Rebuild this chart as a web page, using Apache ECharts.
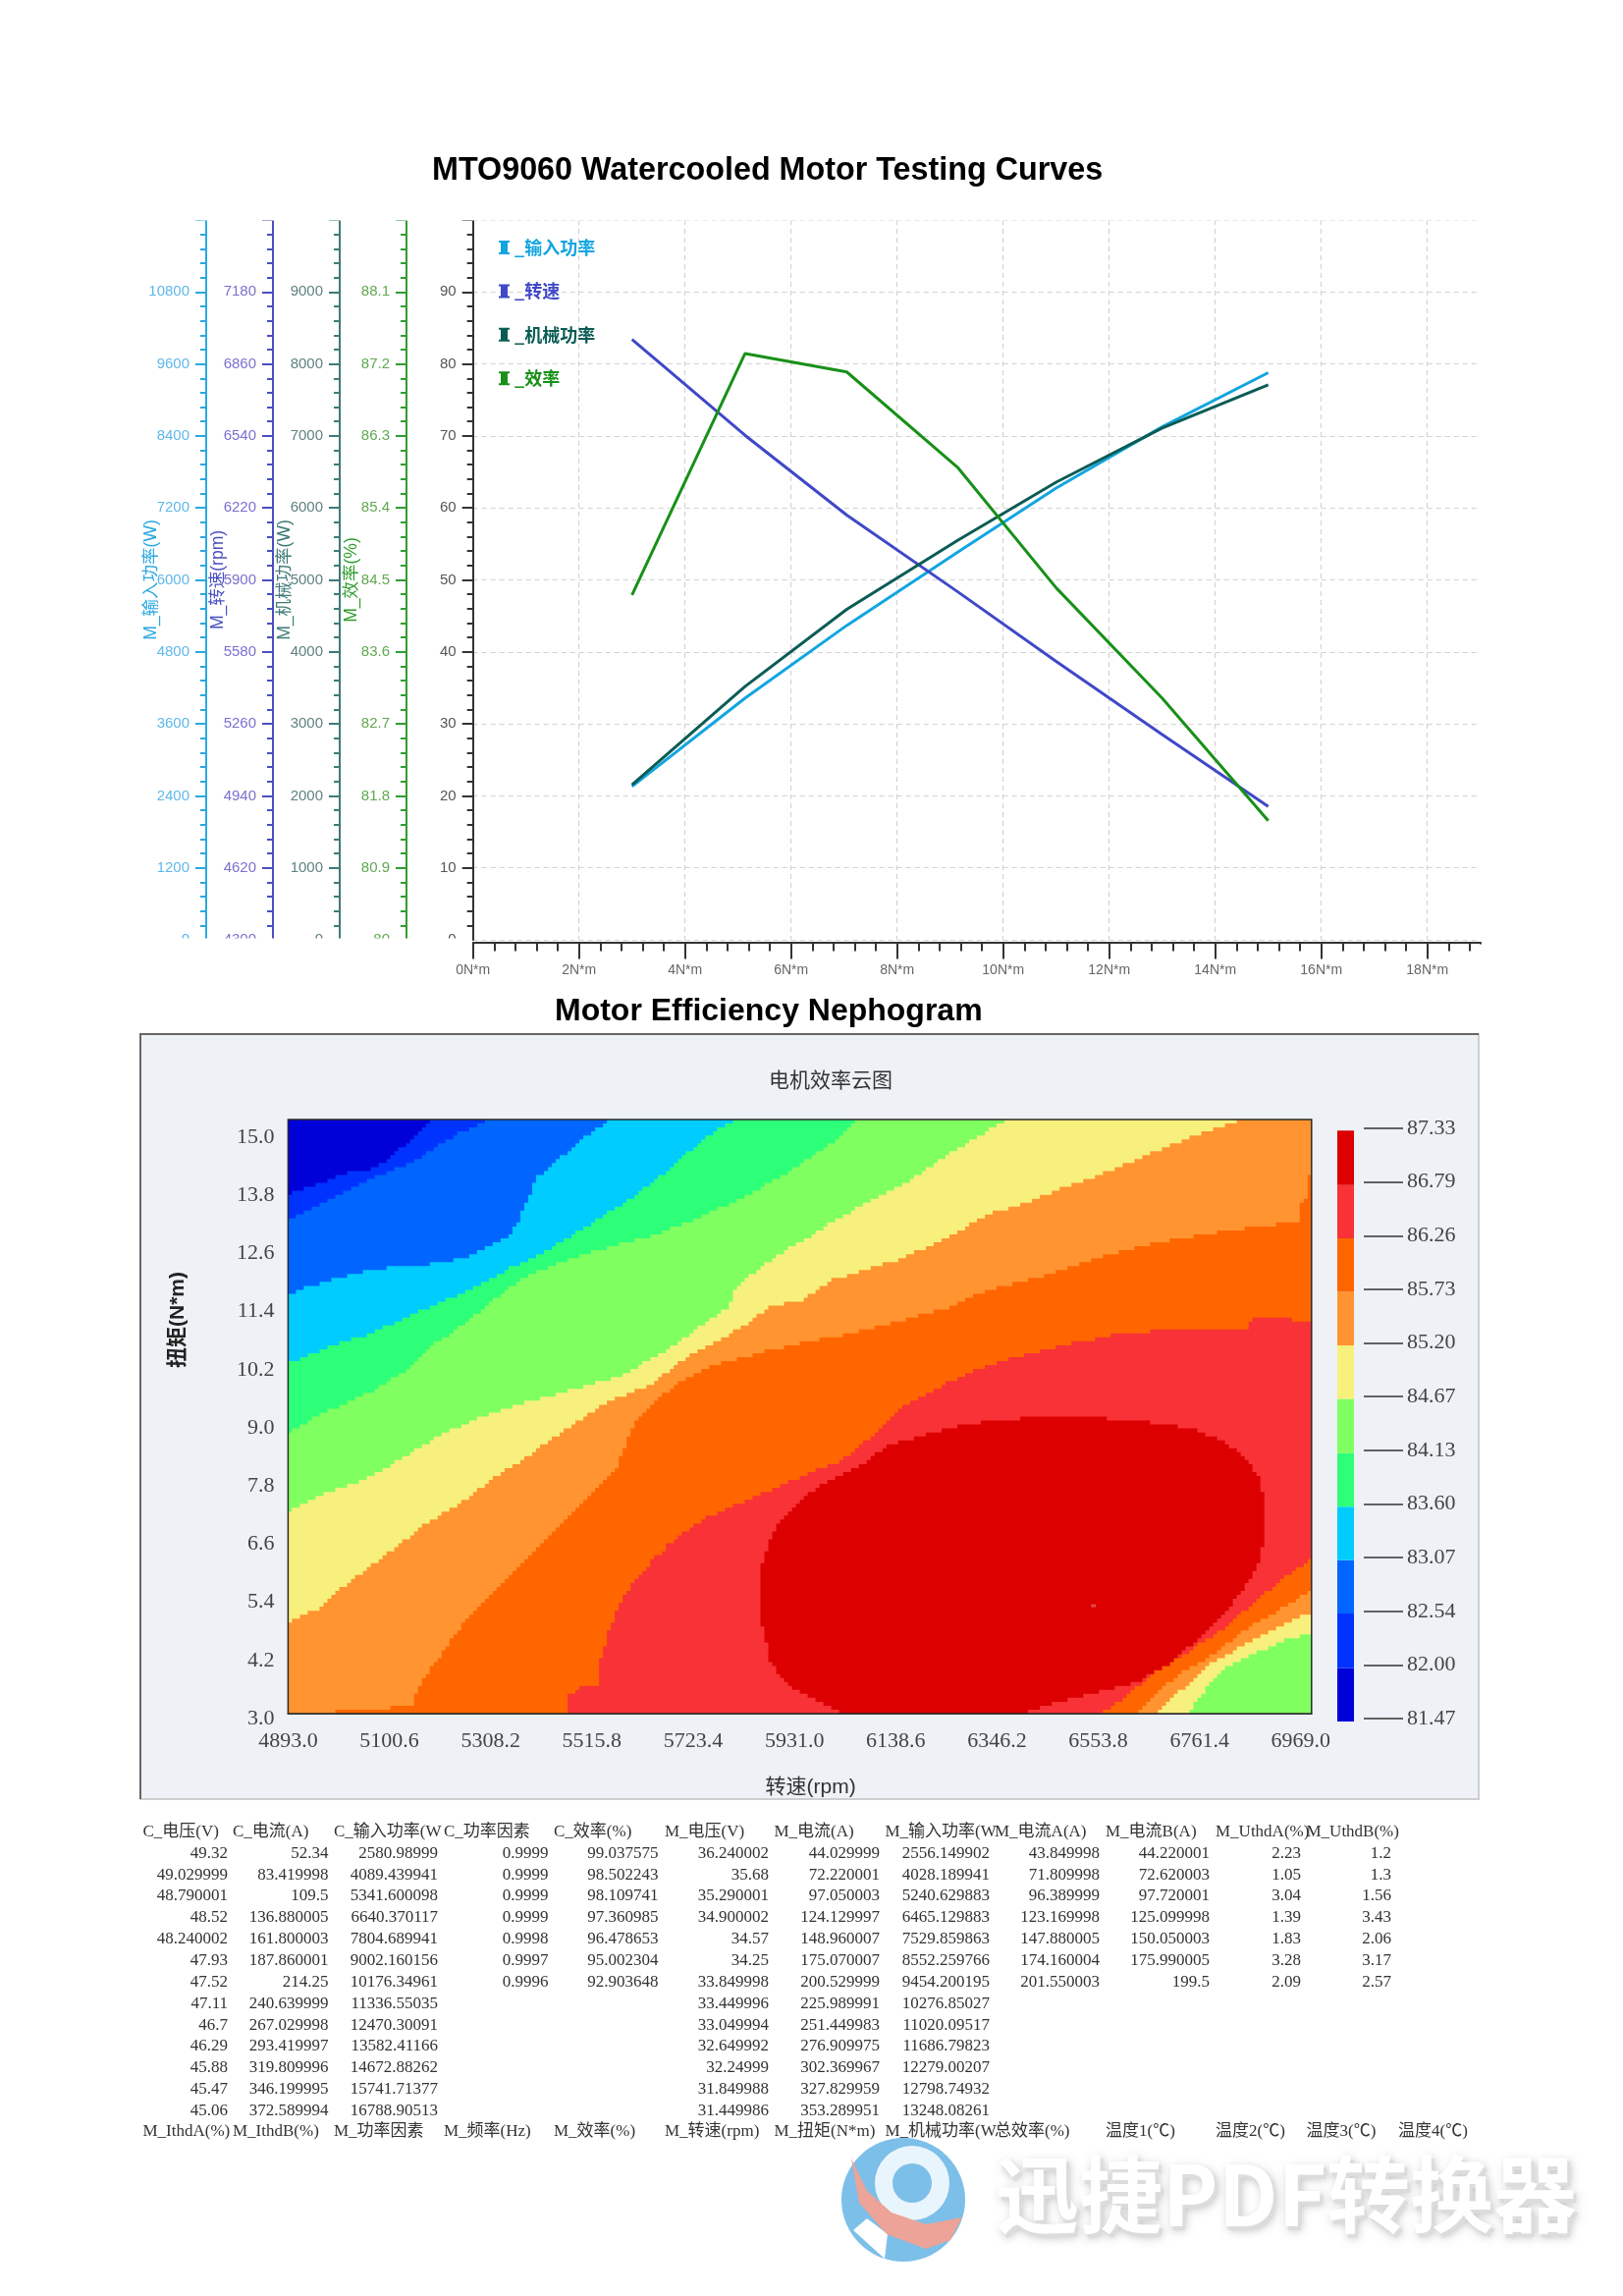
<!DOCTYPE html>
<html><head><meta charset="utf-8">
<script src="https://cdn.jsdelivr.net/npm/echarts@6/dist/echarts.min.js"></script>
<style>html,body{margin:0;padding:0;background:#fff}#c{width:1653px;height:2338px}</style>
</head><body><div id="c"></div>
<script>
// ---------- line chart data ----------
const torque = [3, 5.13, 7.05, 9.15, 11, 13, 15];
const inputPower = [2556.15, 4028.19, 5240.63, 6465.13, 7529.86, 8552.26, 9454.2];
const speedRpm = [6969, 6543, 6188, 5846, 5538, 5212, 4893];
const mechPower = [2154, 3518, 4590, 5553, 6357, 7110, 7710];
const efficiency = [84.31, 87.33, 87.1, 85.9, 84.4, 83.02, 81.49];

// ---------- efficiency map: contour boundaries, [rpm, torque] ----------
const c8200 = [[4893,13.48],[4954,13.71],[5023,13.94],[5071,14.01],[5110,14.31],[5150,14.64],[5189,15]];
const c8254 = [[4893,12.95],[4954,13.25],[5023,13.61],[5081,13.88],[5150,14.14],[5208,14.54],[5247,14.74],[5306,15]];
const c8307 = [[4893,11.46],[4935,11.63],[4984,11.76],[5062,11.96],[5120,12.04],[5208,12.10],[5267,12.26],[5345,12.65],[5369,13.02],[5384,13.41],[5403,13.84],[5442,14.14],[5491,14.60],[5554,15]];
const c8360 = [[4893,10.07],[4974,10.41],[5052,10.64],[5140,11.03],[5228,11.40],[5286,11.66],[5345,11.99],[5413,12.29],[5501,12.82],[5588,13.35],[5676,14.01],[5735,14.54],[5808,15]];
const c8413 = [[4893,8.69],[4974,9.12],[5072,9.55],[5150,10.04],[5189,10.44],[5267,10.97],[5306,11.30],[5374,11.79],[5462,12.16],[5549,12.42],[5628,12.62],[5725,12.98],[5823,13.41],[5930,14.01],[6008,14.54],[6062,15]];
const c8467 = [[4893,7.08],[4954,7.40],[5032,7.66],[5110,8.06],[5198,8.59],[5286,8.98],[5345,9.18],[5442,9.45],[5579,9.84],[5637,10.17],[5696,10.50],[5735,10.83],[5793,11.17],[5813,11.63],[5881,12.16],[5969,12.69],[6057,13.21],[6073,13.28],[6158,13.71],[6243,14.27],[6319,14.73],[6370,15]];
const c8467low = [[6991,4.62],[6937,4.49],[6878,4.22],[6819,3.96],[6785,3.63],[6760,3.30],[6738,3]];
const c8520 = [[4893,4.85],[4925,5.02],[4954,5.08],[4993,5.48],[5062,5.98],[5130,6.50],[5179,6.87],[5247,7.26],[5325,7.83],[5384,8.19],[5462,8.75],[5549,9.31],[5637,9.64],[5696,10.11],[5754,10.44],[5823,10.80],[5881,11.23],[5949,11.36],[6008,11.76],[6067,11.93],[6158,12.22],[6243,12.62],[6328,13.08],[6412,13.35],[6497,13.68],[6582,13.98],[6666,14.34],[6751,14.67],[6853,15]];
const c8520low = [[6991,5.05],[6946,4.85],[6887,4.55],[6836,4.29],[6785,4.00],[6743,3.63],[6709,3.36],[6677,3]];
const c8573 = [[4989,3],[4989,3.07],[5106,3.07],[5106,3.13],[5145,3.13],[5159,3.50],[5189,3.96],[5208,4.22],[5247,4.75],[5286,5.21],[5335,5.68],[5384,6.14],[5442,6.74],[5481,7.13],[5520,7.53],[5559,7.86],[5579,8.26],[5598,8.78],[5637,9.25],[5696,9.71],[5774,10.07],[5881,10.34],[5949,10.50],[6047,10.67],[6158,10.97],[6243,11.20],[6328,11.56],[6412,11.76],[6497,12.02],[6582,12.29],[6666,12.49],[6751,12.65],[6836,12.78],[6921,12.88],[6967,12.96],[6967,13.28],[6980,13.38],[6980,13.84],[6991,13.84]];
const c8573low = [[6991,5.48],[6937,5.15],[6887,4.88],[6836,4.55],[6785,4.16],[6734,3.89],[6683,3.50],[6637,3]];
const c8626 = [[5469,3],[5469,3.36],[5491,3.53],[5530,3.59],[5535,4.16],[5549,4.62],[5569,5.15],[5598,5.61],[5637,6.07],[5686,6.54],[5745,6.93],[5813,7.23],[5930,7.73],[6028,8.12],[6094,8.65],[6158,9.25],[6243,9.68],[6328,10.04],[6412,10.27],[6497,10.47],[6582,10.64],[6666,10.73],[6853,10.73],[6874,11.0],[6921,10.98],[6991,10.93]];
const c8626low = [[6991,6.13],[6954,5.88],[6912,5.55],[6870,5.22],[6819,4.75],[6776,4.49],[6726,4.16],[6666,3.83],[6616,3.36],[6561,3]];
const c8679 = [[6037,3],[5969,3.30],[5910,3.63],[5881,4.09],[5870,4.62],[5860,4.95],[5860,5.88],[5876,6.41],[5901,6.87],[5949,7.40],[6018,7.79],[6073,8.06],[6116,8.39],[6201,8.65],[6285,8.85],[6370,8.95],[6455,8.99],[6548,8.98],[6624,8.92],[6734,8.78],[6810,8.52],[6861,8.12],[6887,7.66],[6891,7.46],[6893,6.54],[6887,6.07],[6865,5.74],[6844,5.41],[6819,5.08],[6785,4.75],[6743,4.36],[6692,3.96],[6633,3.63],[6556,3.43],[6497,3.30],[6429,3.10],[6400,3]];
const hotSpot = [[6544, 5.18]];
const mapCorners = {tl:[4893,15], tr:[6991,15], br:[6991,3], bl:[4893,3]};
const rpmTicks = [4893,5100.6,5308.2,5515.8,5723.4,5931,6138.6,6346.2,6553.8,6761.4,6969];
const torqueTicks = [3,4.2,5.4,6.6,7.8,9,10.2,11.4,12.6,13.8,15];
const levels = [81.47,82.00,82.54,83.07,83.60,84.13,84.67,85.20,85.73,86.26,86.79,87.33];
const levelColors = ['#0000d8','#0033ff','#0066ff','#00ccff','#2dff78','#80ff60','#f8f07c','#ff9430','#ff6600','#f83236','#dc0000'];

// ---------- table under the chart ----------
const headerRow = ['C_电压(V)','C_电流(A)','C_输入功率(W','C_功率因素','C_效率(%)','M_电压(V)','M_电流(A)','M_输入功率(W','M_电流A(A)','M_电流B(A)','M_UthdA(%)','M_UthdB(%)'];
const footerRow = ['M_IthdA(%)','M_IthdB(%)','M_功率因素','M_频率(Hz)','M_效率(%)','M_转速(rpm)','M_扭矩(N*m)','M_机械功率(W','总效率(%)','温度1(℃)','温度2(℃)','温度3(℃)','温度4(℃)'];
const colCVolt = ['49.32','49.029999','48.790001','48.52','48.240002','47.93','47.52','47.11','46.7','46.29','45.88','45.47','45.06'];
const colCCurr = ['52.34','83.419998','109.5','136.880005','161.800003','187.860001','214.25','240.639999','267.029998','293.419997','319.809996','346.199995','372.589994'];
const colCPow = ['2580.98999','4089.439941','5341.600098','6640.370117','7804.689941','9002.160156','10176.34961','11336.55035','12470.30091','13582.41166','14672.88262','15741.71377','16788.90513'];
const colCPf = ['0.9999','0.9999','0.9999','0.9999','0.9998','0.9997','0.9996'];
const colCEff = ['99.037575','98.502243','98.109741','97.360985','96.478653','95.002304','92.903648'];
const colMVolt = ['36.240002','35.68','35.290001','34.900002','34.57','34.25','33.849998','33.449996','33.049994','32.649992','32.24999','31.849988','31.449986'];
const colMCurr = ['44.029999','72.220001','97.050003','124.129997','148.960007','175.070007','200.529999','225.989991','251.449983','276.909975','302.369967','327.829959','353.289951'];
const colMPow = ['2556.149902','4028.189941','5240.629883','6465.129883','7529.859863','8552.259766','9454.200195','10276.85027','11020.09517','11686.79823','12279.00207','12798.74932','13248.08261'];
const colMCurrA = ['43.849998','71.809998','96.389999','123.169998','147.880005','174.160004','201.550003'];
const colMCurrB = ['44.220001','72.620003','97.720001','125.099998','150.050003','175.990005','199.5'];
const colUthdA = ['2.23','1.05','3.04','1.39','1.83','3.28','2.09'];
const colUthdB = ['1.2','1.3','1.56','3.43','2.06','3.17','2.57'];

const tableCols = [colCVolt,colCCurr,colCPow,colCPf,colCEff,colMVolt,colMCurr,colMPow,colMCurrA,colMCurrB,colUthdA,colUthdB];
const colRight = [232,334.5,446,558.5,670.5,783,896,1008,1120,1232,1325,1417];
const colLeft = [145.5,237,340,452,564,677,788.5,901.5,1013,1126,1238,1330.5,1424];

const SANS = '"Liberation Sans","Noto Sans CJK SC",sans-serif';
const SERIF = '"Liberation Serif","Noto Sans CJK SC",serif';

function stair(pts, cs){
  const cx = cs.width/260, cy = cs.height/150, out = [];
  const snap = p => [cs.x+Math.round((p[0]-cs.x)/cx)*cx, cs.y+cs.height-Math.round((cs.y+cs.height-p[1])/cy)*cy];
  let last = null;
  const add = p => {
    const s = snap(p);
    if(last && (s[0]!==last[0] || s[1]!==last[1])){
      if(s[0]!==last[0] && s[1]!==last[1]) out.push([s[0],last[1]]);
      out.push(s); last = s;
    } else if(!last){ out.push(s); last = s; }
  };
  for(let i=0;i<pts.length;i++){
    const a = pts[i], b = pts[(i+1)%pts.length];
    const n = Math.max(1, Math.ceil(Math.hypot(b[0]-a[0], b[1]-a[1])));
    for(let k=0;k<n;k++) add([a[0]+(b[0]-a[0])*k/n, a[1]+(b[1]-a[1])*k/n]);
  }
  return out;
}
const K = mapCorners;
const regions = [
  [K.tl,K.tr,K.br,K.bl],
  [...c8200,K.tr,K.br,K.bl],
  [...c8254,K.tr,K.br,K.bl],
  [...c8307,K.tr,K.br,K.bl],
  [...c8360,K.tr,K.br,K.bl],
  [...c8413,K.tr,K.br,K.bl],
  [...c8467,K.tr,...c8467low,K.bl],
  [...c8520,K.tr,...c8520low,K.bl],
  [...c8573,...c8573low],
  [...c8626,...c8626low],
  c8679
];
const regionSeries = regions.map((poly,i)=>({
  type:'custom', xAxisIndex:1, yAxisIndex:5, silent:true, animation:false, clip:true, z:2+i*0.01,
  data:[poly[0]],
  renderItem:(params,api)=>({type:'polygon',
    shape:{points:stair(poly.map(p=>api.coord(p)), params.coordSys)},
    style:{fill:levelColors[i]}})
}));
const barEdges = [...levels, 87.41];
const colorBarSeries = {
  type:'custom', xAxisIndex:3, yAxisIndex:7, silent:true, animation:false,
  data: levelColors.map((c,i)=>[i, barEdges[i], barEdges[i+1]]),
  encode:{y:[1,2]},
  renderItem:(params,api)=>{
    const lo = api.coord([0,api.value(1)]), hi = api.coord([1,api.value(2)]);
    return {type:'rect', shape:{x:lo[0],y:hi[1],width:hi[0]-lo[0],height:lo[1]-hi[1]}, style:{fill:levelColors[api.value(0)]}};
  }
};

function leftAxis(offset,min,max,interval,lineColor,labelColor,name,gap,fmt){
  return {gridIndex:0,type:'value',position:'left',offset,min,max,interval,
    name,nameLocation:'middle',nameGap:gap,nameMoveOverlap:false,
    nameTextStyle:{color:lineColor,fontFamily:SANS,fontSize:17.5},
    axisLine:{show:true,onZero:false,lineStyle:{color:lineColor,width:2}},
    axisTick:{show:true,length:11,lineStyle:{color:lineColor,width:2}},
    minorTick:{show:true,splitNumber:5,length:6,lineStyle:{color:lineColor,width:2}},
    splitLine:{show:false},
    axisLabel:{color:labelColor,fontFamily:SANS,fontSize:15,margin:17,showMaxLabel:false,hideOverlap:false,formatter:fmt||(v=>String(v))}};
}
const hiddenX = (g,min,max)=>({gridIndex:g,type:'value',show:false,min,max});
const gridDash = {show:true,lineStyle:{type:[5,4],color:'#d2d2d2',width:1.2}};

const graphics = [
  {type:'rect',z:-10,shape:{x:143,y:1053,width:1363,height:779},style:{fill:'#eef1f6',stroke:'#cfcfcf',lineWidth:2}},
  {type:'polyline',z:-9,shape:{points:[[143,1832],[143,1053],[1506,1053]]},style:{fill:'none',stroke:'#666',lineWidth:2}},
  {type:'rect',z:60,shape:{x:293.4,y:1140,width:1042.4,height:605},style:{fill:'none',stroke:'#2a2a2a',lineWidth:1.5}},
  {type:'text',z:60,x:181,y:1344,rotation:Math.PI/2,style:{text:'扭矩(N*m)',font:'bold 21px "Liberation Sans","Noto Sans CJK SC"',fill:'#222',align:'center',verticalAlign:'middle'}},
  {type:'text',z:60,x:825.6,y:1820,style:{text:'转速(rpm)',font:'21px "Liberation Sans","Noto Sans CJK SC"',fill:'#333',align:'center',verticalAlign:'middle'}},
  // covers: clip the line-chart axes as in the picture
  {type:'rect',z:90,shape:{x:130,y:955.6,width:351,height:16},style:{fill:'#fff'}},
  {type:'rect',z:90,shape:{x:130,y:216,width:1390,height:8.6},style:{fill:'#fff'}},
  {type:'rect',z:90,shape:{x:1504,y:224,width:14,height:733.5},style:{fill:'#fff'}},
  {type:'rect',z:90,shape:{x:1506,y:961.5,width:12,height:20},style:{fill:'#fff'}}
];
const cell = (t,x,y,a)=>({type:'text',z:40,x,y,style:{text:t,font:'17px '+SERIF,fill:'#333',align:a,verticalAlign:'middle'}});
headerRow.forEach((t,i)=>graphics.push(cell(t,colLeft[i],1866,'left')));
footerRow.forEach((t,i)=>graphics.push(cell(t,colLeft[i],2171,'left')));
tableCols.forEach((col,c)=>col.forEach((t,r)=>graphics.push(cell(t,colRight[c],1887.3+21.85*r,'right'))));
// watermark
const wm = '迅捷PDF转换器', wmFont = 'bold 85px "Noto Sans CJK SC"';
graphics.push(
  {type:'circle',z:95,shape:{cx:920,cy:2240,r:63},style:{fill:'#7cbfe9'}},
  {type:'ring',z:96,shape:{cx:929,cy:2223,r:38,r0:20},style:{fill:'#e9f5fc'}},
  {type:'polygon',z:97,shape:{points:[[867,2198],[875,2243],[903,2275],[943,2290],[968,2281],[980,2258],[943,2265],[908,2253],[883,2231]]},style:{fill:'#eda397'}},
  {type:'polygon',z:96,shape:{points:[[869,2271],[901,2300],[904,2275],[883,2259]]},style:{fill:'#fff'}},
  {type:'text',z:97,x:1017,y:2239,style:{text:wm,font:wmFont,fill:'#dcdcdc',align:'left',verticalAlign:'middle',textShadowColor:'rgba(120,120,120,0.5)',textShadowBlur:10}},
  {type:'text',z:98,x:1014,y:2235,style:{text:wm,font:wmFont,fill:'#fff',align:'left',verticalAlign:'middle'}}
);

const option = {
  animation:false,
  backgroundColor:'#fff',
  title:[
    {text:'MTO9060 Watercooled Motor Testing Curves',left:440,top:158,padding:0,textStyle:{fontFamily:'"Liberation Sans"',fontWeight:'bold',fontSize:32.3,color:'#000'}},
    {text:'Motor Efficiency Nephogram',left:565,top:1014,padding:0,textStyle:{fontFamily:'"Liberation Sans"',fontWeight:'bold',fontSize:32,color:'#000'}},
    {text:'电机效率云图',left:783,top:1089,padding:0,textStyle:{fontFamily:'"Noto Sans CJK SC"',fontWeight:'normal',fontSize:21,color:'#333'}}
  ],
  legend:{orient:'vertical',left:503,top:238,itemWidth:11,itemHeight:14,itemGap:26.4,icon:'path://M0,0H11V2H9V12H11V14H0V12H2V2H0Z',
    data:[
      {name:'_输入功率',textStyle:{color:'#12a5e0'}},
      {name:'_转速',textStyle:{color:'#3f48c8'}},
      {name:'_机械功率',textStyle:{color:'#0b5c55'}},
      {name:'_效率',textStyle:{color:'#189018'}}
    ],
    textStyle:{fontFamily:'"Noto Sans CJK SC"',fontWeight:'bold',fontSize:18},selectedMode:false},
  grid:[
    {left:481.7,top:224,width:1026,height:733},
    {left:293.4,top:1140,width:1042.4,height:605},
    {left:293.4,top:1158,width:1042.4,height:592},
    {left:1362,top:1143,width:17,height:610},
    {left:1370,top:1149,width:19,height:601}
  ],
  xAxis:[
    {gridIndex:0,type:'value',min:0,max:19,interval:2,offset:2.5,position:'bottom',
      axisLine:{show:true,onZero:false,lineStyle:{color:'#333',width:2}},
      axisTick:{show:true,length:17,lineStyle:{color:'#333',width:2}},
      minorTick:{show:true,splitNumber:5,length:9,lineStyle:{color:'#333',width:2}},
      splitLine:gridDash,
      axisLabel:{color:'#666',fontFamily:SANS,fontSize:14,margin:22,showMaxLabel:false,formatter:v=>v+'N*m'}},
    {gridIndex:1,type:'value',min:4893,max:6991,position:'bottom',
      axisLine:{show:true,onZero:false,lineStyle:{color:'#2a2a2a',width:1.5}},
      axisTick:{show:true,inside:true,length:3,customValues:rpmTicks,lineStyle:{color:'#444'}},
      splitLine:{show:false},
      axisLabel:{show:true,customValues:rpmTicks,color:'#444',fontFamily:SERIF,fontSize:22,margin:17,hideOverlap:false,formatter:v=>v.toFixed(1)}},
    hiddenX(2,0,1), hiddenX(3,0,1), hiddenX(4,0,1)
  ],
  yAxis:[
    Object.assign(leftAxis(0,0,100,10,'#333','#555','',0),{splitLine:gridDash}),
    leftAxis(67.7,80,89,0.9,'#2f9e2f','#62a852','M_效率(%)',47,v=>v===80?'80':v.toFixed(1)),
    leftAxis(135.7,0,10000,1000,'#3e7a78','#5f8280','M_机械功率(W)',47),
    leftAxis(203.7,4300,7500,320,'#4a4fc0','#7b70cf','M_转速(rpm)',47),
    leftAxis(271.7,0,12000,1200,'#29a8e0','#5fb8ea','M_输入功率(W)',47),
    {gridIndex:1,type:'value',min:3,max:15,axisLine:{show:false},axisTick:{show:false},axisLabel:{show:false},splitLine:{show:false}},
    {gridIndex:2,type:'value',min:3,max:15,position:'left',axisLine:{show:false},axisTick:{show:false},splitLine:{show:false},
      axisLabel:{show:true,customValues:torqueTicks,color:'#444',fontFamily:SERIF,fontSize:22,margin:14,hideOverlap:false,formatter:v=>v.toFixed(1)}},
    {gridIndex:3,type:'value',show:false,min:81.47,max:87.41},
    {gridIndex:4,type:'category',position:'right',boundaryGap:false,data:levels.map(v=>v.toFixed(2)),
      axisLine:{show:false,onZero:false},
      axisTick:{show:true,length:40,lineStyle:{color:'#333',width:1.5}},
      axisLabel:{color:'#444',fontFamily:SERIF,fontSize:22,margin:44,interval:0,hideOverlap:false}}
  ],
  series:[
    {name:'_输入功率',type:'line',xAxisIndex:0,yAxisIndex:4,symbol:'none',color:'#12a5e0',lineStyle:{width:3},data:torque.map((t,i)=>[t,inputPower[i]])},
    {name:'_转速',type:'line',xAxisIndex:0,yAxisIndex:3,symbol:'none',color:'#3f48c8',lineStyle:{width:3},data:torque.map((t,i)=>[t,speedRpm[i]])},
    {name:'_机械功率',type:'line',xAxisIndex:0,yAxisIndex:2,symbol:'none',color:'#0b5c55',lineStyle:{width:3},data:torque.map((t,i)=>[t,mechPower[i]])},
    {name:'_效率',type:'line',xAxisIndex:0,yAxisIndex:1,symbol:'none',color:'#189018',lineStyle:{width:3},data:torque.map((t,i)=>[t,efficiency[i]])},
    ...regionSeries,
    {type:'scatter',xAxisIndex:1,yAxisIndex:5,symbol:'rect',symbolSize:[5,3],z:5,silent:true,itemStyle:{color:'#e35a5a'},data:hotSpot},
    colorBarSeries
  ],
  graphic:{elements:graphics}
};
echarts.init(document.getElementById('c')).setOption(option);
</script></body></html>
